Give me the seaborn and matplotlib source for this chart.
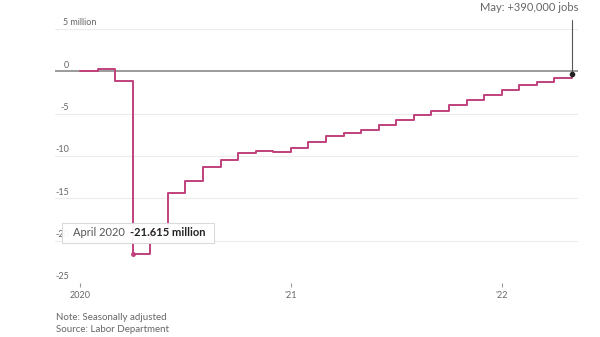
import matplotlib
matplotlib.use("Agg")
import matplotlib.pyplot as plt
import matplotlib.transforms as mtransforms
from matplotlib.patches import Rectangle
import seaborn as sns
import pandas as pd

# ---- data (cumulative change in jobs since Jan 2020, millions) ----
months = ["2020-01", "2020-02", "2020-03", "2020-04", "2020-05", "2020-06",
          "2020-07", "2020-08", "2020-09", "2020-10", "2020-11", "2020-12",
          "2021-01", "2021-02", "2021-03", "2021-04", "2021-05", "2021-06",
          "2021-07", "2021-08", "2021-09", "2021-10", "2021-11", "2021-12",
          "2022-01", "2022-02", "2022-03", "2022-04", "2022-05"]
change = [0.0, 0.3, -1.1, -21.615, -18.9, -14.4,
          -13.0, -11.3, -10.5, -9.7, -9.4, -9.5,
          -9.05, -8.35, -7.6, -7.3, -6.9, -6.3,
          -5.7, -5.1, -4.7, -4.0, -3.4, -2.75,
          -2.25, -1.6, -1.25, -0.75, -0.35]
y_ticks = [5, 0, -5, -10, -15, -20, -25]
y_tick_labels = ["5 million", "0", "-5", "-10", "-15", "-20", "-25"]
x_ticks = [0, 12, 24]
x_tick_labels = ["2020", "'21", "'22"]
low_label = ("April 2020", "-21.615 million")
high_label = "May: +390,000 jobs"
notes = ["Note: Seasonally adjusted", "Source: Labor Department"]

df = pd.DataFrame({"month": months, "change": change})
df["idx"] = range(len(df))

sns.set_theme(style="white")
plt.rcParams["font.family"] = ["Lato", "DejaVu Sans"]

W, H = 600, 337
fig = plt.figure(figsize=(6, 3.37), dpi=100)
ax = fig.add_axes([55 / W, 1 - 283 / H, (578 - 55) / W, (283 - 29) / H])

LINE = "#c0407c"
GRAY_TXT = "#666666"

# gridlines
for v in y_ticks:
    if v == 0:
        ax.axhline(0, color="#8a8a8a", lw=1.2, zorder=2)
    else:
        ax.axhline(v, color="#ececec", lw=0.8, zorder=1)

sns.lineplot(data=df, x="idx", y="change", drawstyle="steps-post",
             color=LINE, lw=1.4, ax=ax, zorder=3, estimator=None)

ax.set_xlim(-1.42, 28.34)
ax.set_ylim(-25, 5)
for s in ax.spines.values():
    s.set_visible(False)
ax.set_xlabel("")
ax.set_ylabel("")
ax.set_yticks([])
ax.set_xticks(x_ticks)
ax.set_xticklabels(x_tick_labels, fontsize=6.5, color=GRAY_TXT)
ax.tick_params(axis="x", length=3, width=0.8, color="#999999", pad=3,
               bottom=True, direction="out")

# y tick labels above the gridlines
blend = mtransforms.blended_transform_factory(ax.transAxes, ax.transData)
for v, lab in zip(y_ticks, y_tick_labels):
    if lab.endswith("million"):
        xf, ha = (63.5 - 55) / 523, "left"
    else:
        xf, ha = (69 - 55) / 523, "right"
    ax.annotate(lab, xy=(xf, v), xycoords=blend, xytext=(0, 4.5),
                textcoords="offset points", ha=ha, va="center",
                fontsize=6.5, color=GRAY_TXT, zorder=2)

# April 2020 tooltip
i_apr = 3
ax.plot([i_apr], [change[i_apr]], "o", ms=2.5, color=LINE, zorder=5)
box = Rectangle((-1.02, -20.27), 7.63 + 1.02, 2.4, facecolor="white",
                edgecolor="#d8d8d8", lw=0.8, alpha=0.95, zorder=6)
ax.add_patch(box)
ax.text(-0.42, -19.07, low_label[0], fontsize=8, color="#555555",
        va="center", ha="left", zorder=7)
ax.text(2.85, -19.07, low_label[1], fontsize=8, color="#222222",
        fontweight="bold", va="center", ha="left", zorder=7)

# May 2022 annotation
i_last = len(change) - 1
ax.plot([i_last], [change[i_last]], "o", ms=3, color="#222222", zorder=5)
ax.plot([i_last, i_last], [change[i_last], 6.06], color="#555555", lw=0.8,
        clip_on=False, zorder=4)
ax.text(28.34, 7.5, high_label, fontsize=8, color=GRAY_TXT, ha="right",
        va="center", clip_on=False)

# notes
fig.text(56 / W, 1 - 318 / H, notes[0], fontsize=7, color=GRAY_TXT,
         ha="left", va="center")
fig.text(56 / W, 1 - 330 / H, notes[1], fontsize=7, color=GRAY_TXT,
         ha="left", va="center")

fig.savefig("out.png", dpi=100, facecolor="white")
